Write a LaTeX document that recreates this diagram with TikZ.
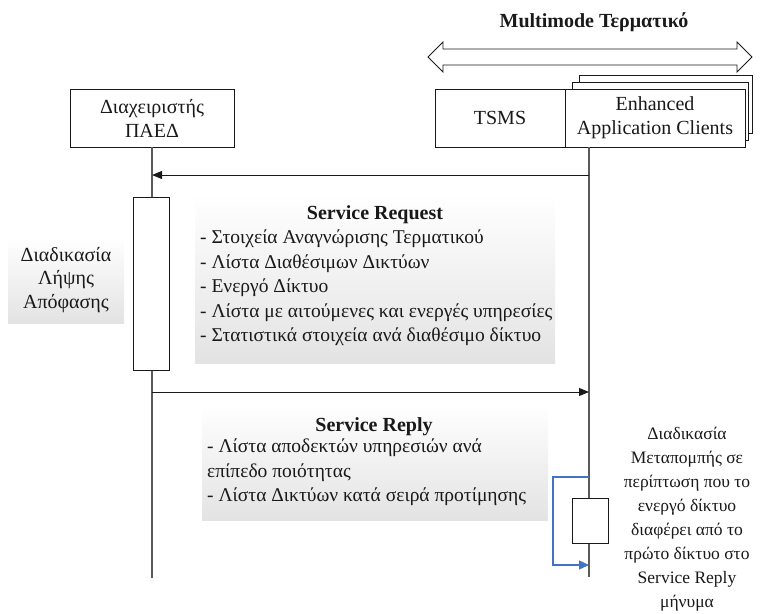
\documentclass[tikz,border=0pt]{standalone}
\usepackage{fontspec}
\setmainfont{Liberation Serif}
\usetikzlibrary{arrows.meta}
\definecolor{ink}{RGB}{25,25,25}
\definecolor{lifegray}{RGB}{90,90,90}
\definecolor{loopblue}{RGB}{68,114,196}
\begin{document}
\begin{tikzpicture}[x=1pt,y=-1pt,
  font=\fontsize{20}{24}\selectfont, text=ink,
  box/.style={draw=ink, line width=0.9pt, fill=white, inner sep=0pt, align=center},
  lifeline/.style={draw=lifegray, line width=1.2pt},
  msg/.style={draw=ink, line width=1pt, -{Triangle[length=10pt,width=8pt]}},
  selfmsg/.style={draw=loopblue, line width=1.4pt, -{Triangle[length=10pt,width=9pt]}},
  note/.style={inner sep=0pt, top color=white, bottom color=gray!22},
  notetext/.style={inner sep=0pt, align=left, font=\fontsize{19.5}{24.5}\selectfont},
  heading/.style={font=\fontsize{20}{24}\selectfont\bfseries},
]
\useasboundingbox (0,0) rectangle (760,613);

% terminal heading and its span arrow
\node[heading] (title) at (594,22) {Multimode Τερματικό};
\draw[ink, line width=0.9pt, fill=white]
  (428,57) -- (443,42) -- (443,49) -- (737,49) -- (737,42) -- (752,57)
  -- (737,72) -- (737,65) -- (443,65) -- (443,72) -- cycle;

% stacked client boxes
\draw[box] (579,75) rectangle (752,133);
\draw[box] (572,82) rectangle (748,140);
\node[box, minimum width=130pt, minimum height=58pt] (tsms) at (500,118) {TSMS};
\node[box, minimum width=180pt, minimum height=58pt] (eac) at (655,118) {Enhanced\\Application Clients};

% manager box
\node[box, minimum width=164pt, minimum height=58pt] (mgr) at (152,118) {Διαχειριστής\\ΠΑΕΔ};

% lifeline end points
\coordinate (rtop) at (589,147);
\coordinate (lend) at (152,578);
\coordinate (rend) at (589,577);
\draw[lifeline] (mgr.south) -- (lend);
\draw[lifeline] (rtop) -- (rend);

% activation bars
\node[box, minimum width=36pt, minimum height=173pt] (act1) at (151,283.5) {};
\node[box, minimum width=36pt, minimum height=45pt] (act2) at (590,520.5) {};

% messages
\coordinate (reqR) at (589,175);
\coordinate (reqL) at (152,175);
\coordinate (repL) at (152,392);
\coordinate (repR) at (589,392);
\draw[msg] (reqR) -- (reqL);
\draw[msg] (repL) -- (repR);

% handover loop on the terminal side
\coordinate (loopA) at (589,477);
\coordinate (loopB) at (589,565);
\draw[selfmsg] (loopA) -- (553,477) -- (553,565) -- (loopB);

% decision note
\node[note, minimum width=116pt, minimum height=86pt] (dec) at (66,280) {};
\node[align=center, font=\fontsize{20}{23.5}\selectfont] (dectext) at (dec.center) {Διαδικασία\\Λήψης\\Απόφασης};

% service request note
\node[note, minimum width=360pt, minimum height=170pt] (req) at (375,278) {};
\node[heading] (reqtitle) at (375,215) {Service Request};
\node[notetext, anchor=north west] (reqlist) at (200,230) {%
- Στοιχεία Αναγνώρισης Τερματικού\\
- Λίστα Διαθέσιμων Δικτύων\\
- Ενεργό Δίκτυο\\
- Λίστα με αιτούμενες και ενεργές υπηρεσίες\\
- Στατιστικά στοιχεία ανά διαθέσιμο δίκτυο};

% service reply note
\node[note, minimum width=346pt, minimum height=116pt] (rep) at (375,462) {};
\node[heading] (reptitle) at (374,427) {Service Reply};
\node[notetext, anchor=north west] (replist) at (207,439) {%
- Λίστα αποδεκτών υπηρεσιών ανά\\
επίπεδο ποιότητας\\
- Λίστα Δικτύων κατά σειρά προτίμησης};

% handover description
\node[align=center, anchor=north, inner sep=0pt, font=\fontsize{17.5}{24}\selectfont] (hotext) at (687,427) {%
Διαδικασία\\Μεταπομπής σε\\περίπτωση που το\\ενεργό δίκτυο\\διαφέρει από το\\πρώτο δίκτυο στο\\Service Reply\\μήνυμα};
\end{tikzpicture}
\end{document}
